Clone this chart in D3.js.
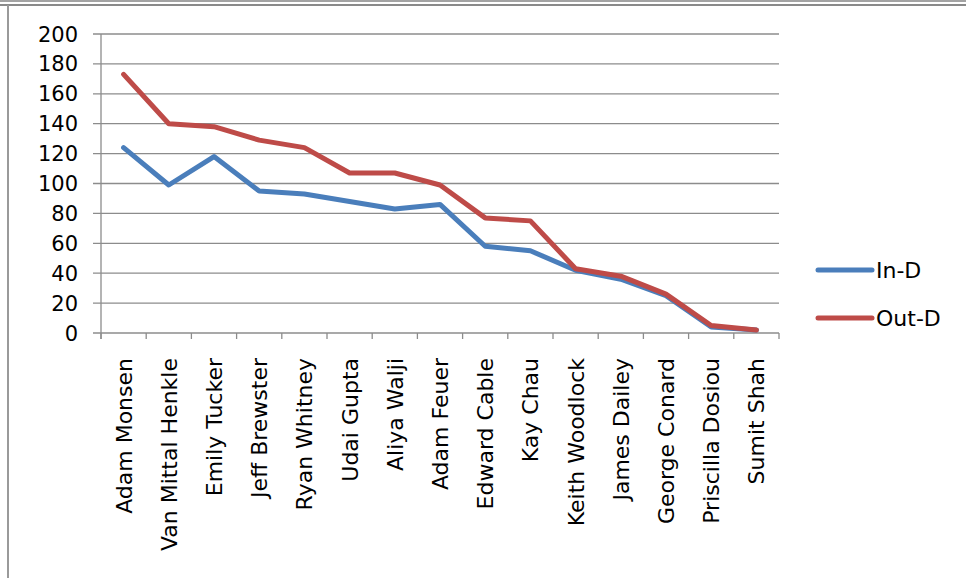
<!DOCTYPE html>
<html>
<head>
<meta charset="utf-8">
<script src="https://cdn.jsdelivr.net/npm/d3@7"></script>
<style>
  body { margin: 0; background: #fff; }
  text { font-family: "DejaVu Sans", sans-serif; fill: #000; }
</style>
</head>
<body>
<div id="chart"></div>
<script>
const names = ["Adam Monsen", "Van Mittal Henkle", "Emily Tucker", "Jeff Brewster", "Ryan Whitney",
  "Udai Gupta", "Aliya Walji", "Adam Feuer", "Edward Cable", "Kay Chau", "Keith Woodlock",
  "James Dailey", "George Conard", "Priscilla Dosiou", "Sumit Shah"];
const inD  = [124, 99, 118, 95, 93, 88, 83, 86, 58, 55, 42, 36, 25, 4, 2];
const outD = [173, 140, 138, 129, 124, 107, 107, 99, 77, 75, 43, 38, 26, 5, 2];
const yTicks = [0, 20, 40, 60, 80, 100, 120, 140, 160, 180, 200];
const seriesNames = ["In-D", "Out-D"];
const colors = ["#4a7ebb", "#be4b48"];

const W = 966, H = 578;
const svg = d3.select("#chart").append("svg")
  .attr("width", W).attr("height", H);

// outer frame (top double rule + left edge)
svg.append("rect").attr("x", 0).attr("y", 0).attr("width", W).attr("height", 2).attr("fill", "#a3a3a3");
svg.append("rect").attr("x", 0).attr("y", 4).attr("width", W).attr("height", 2).attr("fill", "#8a8a8a");
svg.append("rect").attr("x", 7).attr("y", 5).attr("width", 2).attr("height", H - 5).attr("fill", "#9a9a9a");

const x = d3.scaleBand().domain(names).range([101, 779]);
const y = d3.scaleLinear().domain([0, 200]).range([333, 34]);
const cx = d => x(d) + x.bandwidth() / 2;

// gridlines
svg.append("g").selectAll("line")
  .data(yTicks)
  .join("line")
  .attr("x1", 93).attr("x2", 779)
  .attr("y1", d => y(d)).attr("y2", d => y(d))
  .attr("stroke", "#8c8c8c").attr("stroke-width", 1.3);

// y axis
svg.append("line")
  .attr("x1", 101).attr("x2", 101).attr("y1", y(200)).attr("y2", y(0) + 6)
  .attr("stroke", "#8c8c8c").attr("stroke-width", 1.3);

svg.append("g").selectAll("text")
  .data(yTicks)
  .join("text")
  .attr("x", 78)
  .attr("y", d => y(d))
  .attr("dy", "0.36em")
  .attr("text-anchor", "end")
  .style("font-size", "21px")
  .text(d => d);

// x axis ticks at category boundaries
const bounds = names.map(d => x(d)).concat([x.range()[1]]);
svg.append("g").selectAll("line")
  .data(bounds)
  .join("line")
  .attr("x1", d => d).attr("x2", d => d)
  .attr("y1", y(0)).attr("y2", y(0) + 6)
  .attr("stroke", "#8c8c8c").attr("stroke-width", 1.3);

svg.append("g").selectAll("text")
  .data(names)
  .join("text")
  .attr("transform", d => `translate(${cx(d) + 8},358) rotate(-90)`)
  .attr("text-anchor", "end")
  .style("font-size", "22px")
  .text(d => d);

// lines
const line = d3.line()
  .x((d, i) => cx(names[i]))
  .y(d => y(d));

[inD, outD].forEach((s, i) => {
  svg.append("path")
    .datum(s)
    .attr("d", line)
    .attr("fill", "none")
    .attr("stroke", colors[i])
    .attr("stroke-width", 5)
    .attr("stroke-linejoin", "round")
    .attr("stroke-linecap", "round");
});

// legend
const legend = svg.append("g").selectAll("g")
  .data(seriesNames)
  .join("g")
  .attr("transform", (d, i) => `translate(818,${270 + i * 48})`);

legend.append("line")
  .attr("x1", 0).attr("x2", 54)
  .attr("stroke", (d, i) => colors[i])
  .attr("stroke-width", 5)
  .attr("stroke-linecap", "round");

legend.append("text")
  .attr("x", 58)
  .attr("dy", "0.36em")
  .style("font-size", "22px")
  .text(d => d);
</script>
</body>
</html>
